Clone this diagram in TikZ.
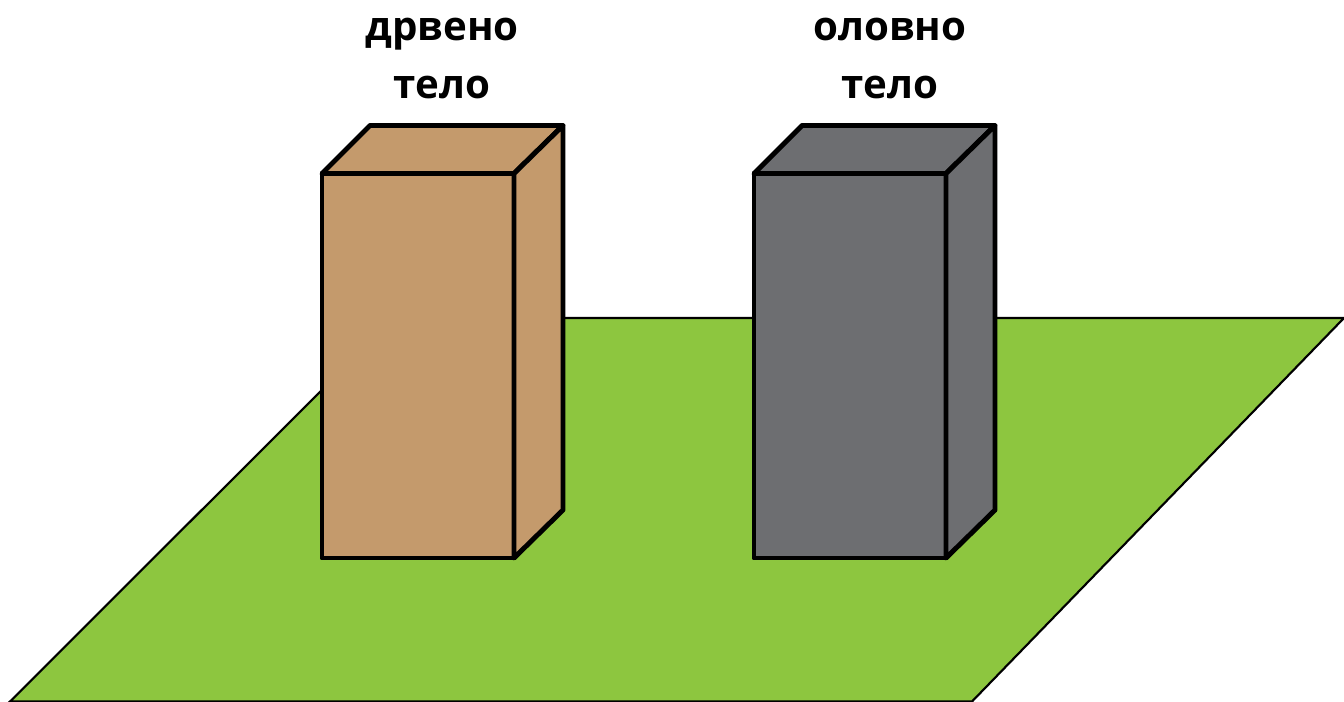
\documentclass[tikz,border=0pt]{standalone}
\usepackage{fontspec}
\setmainfont{Open Sans}
\definecolor{grass}{HTML}{8DC63F}
\definecolor{wood}{HTML}{C49A6C}
\definecolor{lead}{HTML}{6D6E71}
\tikzset{
 px/.style={x=0.75pt,y=-0.75pt},
 face/.style={draw=black,line width=3.7pt,line join=round},
 lbl/.style={font=\bfseries\fontsize{30.2pt}{43pt}\selectfont,inner sep=0pt,anchor=base}
}
\begin{document}
\begin{tikzpicture}[px]
\useasboundingbox (0,0) rectangle (1344,702);
\fill[white] (0,0) rectangle (1344,702);
\draw[fill=grass,draw=black,line width=1.6pt,line join=miter] (10,701.5) -- (394,318) -- (1344,318) -- (972,701.5) -- cycle;
\foreach \x/\c in {0/wood,432/lead}{
 \begin{scope}[xshift=\x*0.75pt]
 \draw[face,fill=\c] (322,173.5) rectangle (514,558);
 \draw[face,fill=\c] (322,173.5) -- (370,125.5) -- (563,125.5) -- (514,173.5) -- cycle;
 \draw[face,fill=\c] (514,173.5) -- (563,125.5) -- (563,510) -- (514,558) -- cycle;
 \end{scope}
}
\node[lbl] (a) at (442,41) {дрвено};
\node[lbl] (a2) at (442,99) {тело};
\node[lbl] (b) at (890,41) {оловно};
\node[lbl] (b2) at (890,99) {тело};
\end{tikzpicture}
\end{document}
